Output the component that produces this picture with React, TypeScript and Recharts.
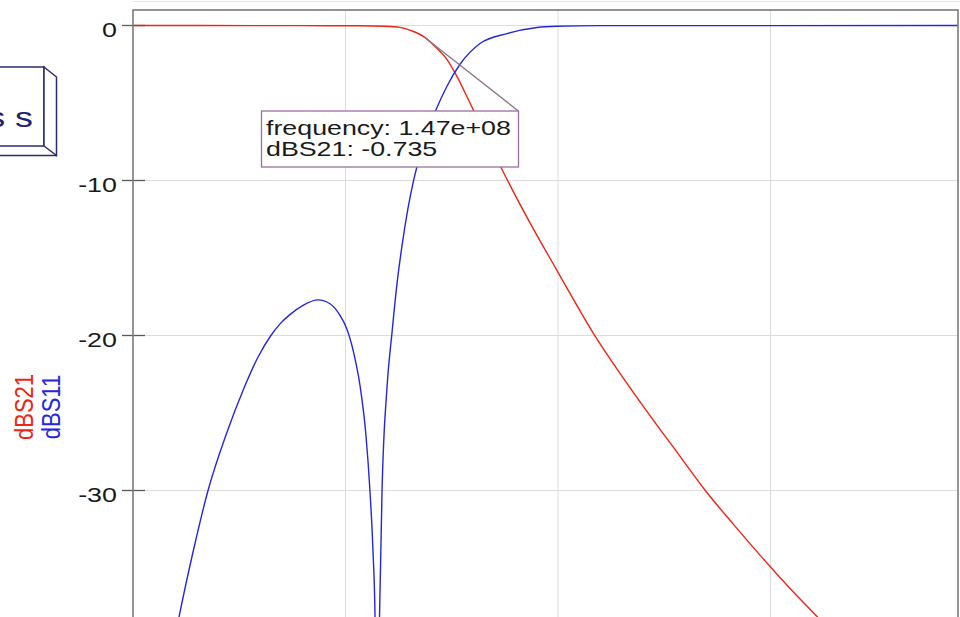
import React from 'react';
import { LineChart, Line, XAxis, YAxis, CartesianGrid, ReferenceLine } from 'recharts';

// frequency in MHz, level in dB
const s21Freq = [10, 41.5, 88.6, 116.8, 128.6, 135.6, 141.3, 147, 152.1, 157.8, 162.5, 167.2, 171.9, 178, 184.6, 196.9, 209.5, 218, 226.8, 240, 253.2, 266.4, 279.6, 292.7, 305.9, 319.1, 332.4, 347.4, 370.9, 398.2];
const s21Db = [0, 0, -0.01, -0.02, -0.05, -0.12, -0.35, -0.735, -1.35, -2.2, -3.3, -4.6, -5.95, -7.7, -9.55, -12.75, -15.8, -17.85, -19.9, -22.6, -25.15, -27.6, -30.05, -32.2, -34.3, -36.3, -38.2, -40.4, -43.8, -47.7];

const s11Freq = [25, 31.6, 38.2, 45.3, 53.8, 62.2, 68.8, 74.9, 79.2, 83.4, 90, 97.1, 102.7, 107.4, 110.7, 114, 116.8, 119.6, 121.5, 122.9, 123.9, 124.8, 126, 127.2, 129.5, 131.9, 134.2, 136.6, 139.4, 142.2, 146.9, 152.1, 157.8, 163.9, 173.3, 186, 200.1, 209.5, 229.8, 398.2];
const s11Db = [-43, -38.2, -34, -30, -26.4, -23.4, -21.4, -20, -19.25, -18.7, -18.05, -17.7, -17.95, -18.7, -19.6, -21.2, -23.2, -26.4, -30, -33.8, -38.2, -50, -38.2, -30, -23.4, -19.8, -16.7, -14.2, -11.8, -9.9, -7.5, -5.6, -3.9, -2.5, -1.16, -0.52, -0.13, -0.05, -0.01, 0];

const xTicks = [110, 210, 310];
const yTicks = [0, -10, -20, -30];

const markerFreq = 147;
const markerDb = -0.735;
const markerBoxCorner = { x: 191.2, y: -5.5 };

const s21 = s21Freq.map((f, i) => ({ f, db: s21Db[i] }));
const s11 = s11Freq.map((f, i) => ({ f, db: s11Db[i] }));

const FONT = '"Liberation Sans", Arial, Helvetica, sans-serif';
const SX = 1.28;

const fmtExp = (v: number) => {
  const [m, e] = v.toExponential(2).split('e');
  return `${m}e${e[0]}${e.slice(1).padStart(2, '0')}`;
};

const YTick = (props: any) => {
  const { x, y, payload } = props;
  return (
    <g>
      <line x1={x - 11} x2={x + 12} y1={y} y2={y} stroke="#5a5a5a" strokeWidth={1.3} />
      <text transform={`translate(${x - 16},${y + 11}) scale(${SX},1)`} textAnchor="end" fontSize={21} fontFamily={FONT} fill="#1a1a1a">
        {payload.value}
      </text>
    </g>
  );
};

export default function App() {
  return (
    <div style={{ position: 'absolute', left: 0, top: 0, width: 960, height: 617, overflow: 'hidden', background: '#fff' }}>
      <LineChart width={960} height={730} margin={{ top: 10, right: 2, bottom: 7, left: 0 }}>
        <CartesianGrid stroke="#dcdcdc" strokeWidth={1} vertical={false} />
        <XAxis dataKey="f" type="number" domain={[10, 398.24]} ticks={xTicks} allowDataOverflow tick={false} tickLine={false} axisLine={false} height={0} />
        <YAxis type="number" domain={[-45, 1]} ticks={yTicks} allowDataOverflow width={133} tickSize={0} tickMargin={0} tickLine={false} axisLine={false} tick={<YTick />} />
        {xTicks.map((t) => (
          <ReferenceLine key={t} x={t} stroke="#dcdcdc" strokeWidth={1} />
        ))}
        <Line data={s21} dataKey="db" type="monotone" stroke="#ee2414" strokeWidth={1.4} dot={false} isAnimationActive={false} />
        <Line data={s11} dataKey="db" type="monotone" stroke="#2626dc" strokeWidth={1.4} dot={false} isAnimationActive={false} />
        <ReferenceLine segment={[{ x: markerFreq, y: markerDb }, markerBoxCorner]} stroke="#8a7484" strokeWidth={1.3} />
      </LineChart>
      <svg width={960} height={617} style={{ position: 'absolute', left: 0, top: 0, pointerEvents: 'none' }}>
        <line x1={133} x2={960} y1={1.5} y2={1.5} stroke="#e6e6e6" strokeWidth={1} />
        <rect x={133} y={10} width={825} height={713} fill="none" stroke="#7c7c7c" strokeWidth={1.6} />

        {/* button-like legend box, cut off at the left */}
        <rect x={-10} y={67} width={54} height={79} fill="#fff" stroke="#2c2c6c" strokeWidth={1.5} />
        <polygon points="44,67 56.5,77 56.5,155.5 44,146" fill="#fff" stroke="#2c2c6c" strokeWidth={1.5} />
        <polyline points="-10,155.5 56.5,155.5" fill="none" stroke="#2c2c6c" strokeWidth={1.5} />
        <text transform={`translate(33,127) scale(${SX},1)`} textAnchor="end" fontSize={28} fontFamily={FONT} fill="#23236b">s s</text>

        {/* axis label */}
        <text transform="translate(33,407) scale(1.2,1) rotate(-90)" textAnchor="middle" fontSize={22} fontFamily={FONT} fill="#ee2414">dBS21</text>
        <text transform="translate(60,407) scale(1.2,1) rotate(-90)" textAnchor="middle" fontSize={22} fontFamily={FONT} fill="#2626dc">dBS11</text>

        {/* marker box */}
        <rect x={261.5} y={111} width={257} height={56} fill="#fff" stroke="#9a6fa0" strokeWidth={1.3} />
        <text transform="translate(266,134.5) scale(1.34,1)" fontSize={20} fontFamily={FONT} fill="#1a1a1a">{`frequency: ${fmtExp(markerFreq * 1e6)}`}</text>
        <text transform="translate(266,156) scale(1.34,1)" fontSize={20} fontFamily={FONT} fill="#1a1a1a">{`dBS21: ${markerDb}`}</text>
      </svg>
    </div>
  );
}
